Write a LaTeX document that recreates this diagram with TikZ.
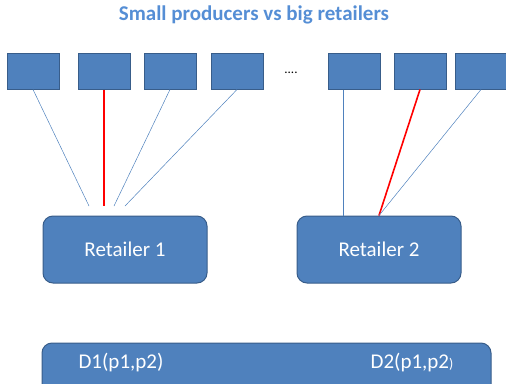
\documentclass[tikz,border=0pt]{standalone}
\usepackage{fontspec}
\setmainfont{Carlito}
\definecolor{boxblue}{HTML}{4F81BD}
\definecolor{boxedge}{HTML}{385D8A}
\definecolor{titleblue}{HTML}{558ED5}
\begin{document}
\begin{tikzpicture}[x=1pt, y=-1pt]
	\tikzstyle{producer}=[rectangle, fill=boxblue, draw=boxedge, line width=1pt, minimum width=52pt, minimum height=36pt, inner sep=0pt]
	\tikzstyle{retailer}=[rectangle, rounded corners=10pt, fill=boxblue, draw=boxedge, line width=1pt, minimum width=164pt, minimum height=67pt, text=white, font=\fontsize{21}{25}\selectfont]
	\tikzstyle{link}=[boxblue, line width=0.5pt]
	\tikzstyle{redlink}=[red, line width=1.6pt]
	\tikzstyle{demand}=[text=white, font=\fontsize{21}{25}\selectfont, inner sep=0pt]
	\useasboundingbox (0, 0) rectangle (506, 383);
	\draw node at (254, 15) (title) {\fontsize{21}{25}\selectfont\bfseries\color{titleblue}Small producers vs big retailers};
	\draw node at (33, 71) [producer] (p1) {};
	\draw node at (104, 71) [producer] (p2) {};
	\draw node at (170, 71) [producer] (p3) {};
	\draw node at (237, 71) [producer] (p4) {};
	\draw node at (291, 73) (dots) {\fontsize{13}{15}\selectfont ....};
	\draw node at (354, 71) [producer] (p5) {};
	\draw node at (420, 71) [producer] (p6) {};
	\draw node at (481, 71) [producer] (p7) {};
	\draw node at (125, 249.5) [retailer] (r1) {Retailer 1};
	\draw node at (379, 249.5) [retailer] (r2) {Retailer 2};
	\draw node at (266.5, 376.5) [retailer, minimum width=449pt] (market) {};
	\draw node at (121, 363) [demand] (d1) {D1(p1,p2)};
	\draw node at (412, 363) [demand] (d2) {D2(p1,p2{\fontsize{14}{16}\selectfont)}};
	
	% free ends above retailer 1
	\coordinate (e1) at (89, 206);
	\coordinate (e2) at (104, 206);
	\coordinate (e3) at (114, 206);
	\coordinate (e4) at (125, 206);
	\coordinate (e5) at (343, 216);
	
	\draw [link] (p1.south) -- (e1);
	\draw [redlink] (p2.south) -- (e2);
	\draw [link] (p3.south) -- (e3);
	\draw [link] (p4.south) -- (e4);
	\draw [link, line width=0.8pt] (p5.south -| e5) -- (e5);
	\draw [redlink] (p6.south) -- (r2.north);
	\draw [link] (p7.south) -- (r2.north);
\end{tikzpicture}
\end{document}
